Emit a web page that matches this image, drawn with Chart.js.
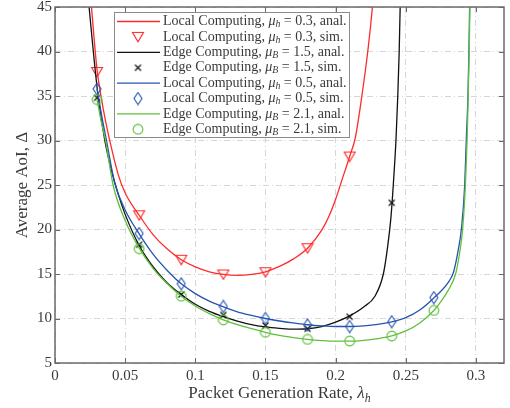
<!DOCTYPE html>
<html>
<head>
<meta charset="utf-8">
<script src="https://cdn.jsdelivr.net/npm/chart.js@4.4.1/dist/chart.umd.min.js"></script>
<style>
  html, body { margin: 0; padding: 0; background: #fff; }
  #wrap { width: 510px; height: 408px; position: relative; }
</style>
</head>
<body>
<div id="wrap"><canvas id="aoiChart"></canvas></div>
<script>
// simulation points (markers)
const xSim = [0.03, 0.06, 0.09, 0.12, 0.15, 0.18, 0.21, 0.24, 0.27];
const localLowSim = [37.7, 21.6, 16.6, 14.95, 15.2, 17.9, 28.2];
const edgeLowSim = [34.8, 18.3, 12.7, 10.4, 9.2, 8.85, 10.2, 23.0];
const localHighSim = [35.8, 19.55, 13.9, 11.35, 10.0, 9.27, 9.1, 9.64, 12.35];
const edgeHighSim = [34.6, 17.85, 12.5, 9.85, 8.45, 7.65, 7.47, 8.03, 10.9];

// analytical curves
const xLocalLow = [0.024, 0.026, 0.028, 0.03, 0.033, 0.036, 0.039, 0.045, 0.05, 0.06, 0.07, 0.08, 0.09, 0.1, 0.11, 0.12, 0.13, 0.14, 0.15, 0.16, 0.17, 0.18, 0.19, 0.195, 0.2, 0.205, 0.21, 0.214, 0.2187, 0.2229, 0.2262, 0.2285];
const yLocalLow = [48.5, 45, 41.2, 37.9, 34.8, 32.2, 30.0, 26.2, 24.1, 21.6, 19.4, 17.8, 16.6, 15.8, 15.25, 14.95, 14.85, 14.95, 15.25, 15.85, 16.7, 17.9, 19.9, 21.4, 23.4, 25.8, 28.2, 30.3, 35, 40, 45, 50];

const xEdgeLow = [0.0243, 0.027, 0.0307, 0.0355, 0.04, 0.045, 0.05, 0.06, 0.07, 0.08, 0.09, 0.1, 0.11, 0.12, 0.13, 0.14, 0.15, 0.16, 0.17, 0.18, 0.19, 0.2, 0.21, 0.22, 0.228, 0.234, 0.237, 0.2395, 0.2413, 0.243, 0.2443, 0.2453, 0.246, 0.2466];
const yEdgeLow = [45, 40.5, 35, 30, 26.8, 24.0, 21.7, 18.2, 15.8, 14.0, 12.7, 11.6, 10.8, 10.2, 9.7, 9.3, 9.05, 8.9, 8.8, 8.85, 9.1, 9.6, 10.3, 11.3, 12.5, 15, 18, 21.5, 25.5, 30, 35, 40, 45, 50];

const xLocalHigh = [0.03, 0.0335, 0.0367, 0.0426, 0.05, 0.06, 0.07, 0.08, 0.09, 0.1, 0.11, 0.12, 0.13, 0.14, 0.15, 0.16, 0.17, 0.18, 0.19, 0.2, 0.21, 0.22, 0.23, 0.24, 0.25, 0.26, 0.27, 0.28, 0.284, 0.2875, 0.2896, 0.292, 0.2931, 0.2943, 0.295, 0.2955, 0.296];
const yLocalHigh = [35.8, 32.6, 30, 25.2, 22.2, 19.5, 17.2, 15.4, 13.9, 12.8, 11.95, 11.3, 10.75, 10.35, 10.0, 9.72, 9.5, 9.3, 9.17, 9.1, 9.1, 9.17, 9.33, 9.62, 10.1, 10.95, 12.3, 14.0, 15.2, 17.8, 20, 25, 30, 35, 40, 45, 50];

const xEdgeHigh = [0.03, 0.033, 0.036, 0.0414, 0.05, 0.06, 0.07, 0.08, 0.09, 0.1, 0.11, 0.12, 0.13, 0.14, 0.15, 0.16, 0.17, 0.18, 0.19, 0.2, 0.21, 0.22, 0.23, 0.24, 0.25, 0.26, 0.27, 0.275, 0.28, 0.2855, 0.2885, 0.2905, 0.2925, 0.2937, 0.2945, 0.2952, 0.2957, 0.2962];
const yEdgeHigh = [34.6, 32.1, 30, 25, 21.0, 17.9, 15.6, 13.9, 12.5, 11.4, 10.55, 9.85, 9.3, 8.85, 8.45, 8.1, 7.85, 7.65, 7.52, 7.45, 7.45, 7.55, 7.75, 8.05, 8.6, 9.5, 10.9, 11.9, 13.1, 15, 17.5, 20, 25, 30, 35, 40, 45, 50];

const xTicks = [0, 0.05, 0.1, 0.15, 0.2, 0.25, 0.3];
const yTicks = [5, 10, 15, 20, 25, 30, 35, 40, 45];

const legendScheme = ['Local Computing', 'Local Computing', 'Edge Computing', 'Edge Computing', 'Local Computing', 'Local Computing', 'Edge Computing', 'Edge Computing'];
const legendSub = ['h', 'h', 'B', 'B', 'h', 'h', 'B', 'B'];
const legendMu = ['0.3', '0.3', '1.5', '1.5', '0.5', '0.5', '2.1', '2.1'];
const legendKind = ['anal.', 'sim.', 'anal.', 'sim.', 'anal.', 'sim.', 'anal.', 'sim.'];

const RED = '#ff2a2a';
const BLACK = '#111111';
const BLUE = '#2553b0';
const GREEN = '#5fbf3c';
const FONT = '"Liberation Serif", "Times New Roman", serif';
const TEXT = '#3a3a3a';
const AXIS = '#6a6a6a';

// marker images
const makeMarker = (w, h, draw) => {
    const c = document.createElement('canvas');
    c.width = w;
    c.height = h;
    const ctx = c.getContext('2d');
    draw(ctx);
    return c;
};

const triDown = makeMarker(14, 12, (ctx) => {
    ctx.strokeStyle = RED;
    ctx.lineWidth = 1.1;
    ctx.beginPath();
    ctx.moveTo(1.5, 1.5);
    ctx.lineTo(12.5, 1.5);
    ctx.lineTo(7, 10.8);
    ctx.closePath();
    ctx.stroke();
});

const xMark = makeMarker(9, 9, (ctx) => {
    ctx.strokeStyle = BLACK;
    ctx.lineWidth = 1.2;
    ctx.beginPath();
    ctx.moveTo(1.5, 1.5);
    ctx.lineTo(7.5, 7.5);
    ctx.moveTo(7.5, 1.5);
    ctx.lineTo(1.5, 7.5);
    ctx.stroke();
});

const diamond = makeMarker(10, 14, (ctx) => {
    ctx.strokeStyle = BLUE;
    ctx.lineWidth = 1.1;
    ctx.beginPath();
    ctx.moveTo(5, 1);
    ctx.lineTo(9, 7);
    ctx.lineTo(5, 13);
    ctx.lineTo(1, 7);
    ctx.closePath();
    ctx.stroke();
});

const ring = makeMarker(12, 12, (ctx) => {
    ctx.strokeStyle = GREEN;
    ctx.lineWidth = 1.1;
    ctx.beginPath();
    ctx.arc(6, 6, 4.9, 0, Math.PI * 2);
    ctx.stroke();
});

const toPoints = (xs, ys) => ys.map((y, i) => ({ x: xs[i], y }));

const analLine = (xs, ys, color) => ({
    data: toPoints(xs, ys),
    showLine: true,
    borderColor: color,
    borderWidth: 1.3,
    pointRadius: 0,
    cubicInterpolationMode: 'monotone',
    fill: false,
    clip: 0,
});

const simMarks = (ys, color, style) => ({
    data: toPoints(xSim, ys),
    showLine: false,
    borderColor: color,
    backgroundColor: color,
    pointStyle: style,
    pointRadius: 5,
});

const datasets = [
    analLine(xLocalLow, yLocalLow, RED),
    simMarks(localLowSim, RED, triDown),
    analLine(xEdgeLow, yEdgeLow, BLACK),
    simMarks(edgeLowSim, BLACK, xMark),
    analLine(xLocalHigh, yLocalHigh, BLUE),
    simMarks(localHighSim, BLUE, diamond),
    analLine(xEdgeHigh, yEdgeHigh, GREEN),
    simMarks(edgeHighSim, GREEN, ring),
];
// later series on top, like the original plot
datasets.forEach((ds, i) => { ds.order = datasets.length - i; });

// text with italic math and subscript
const drawMath = (ctx, x, y, parts, size) => {
    let cx = x;
    parts.forEach((p) => {
        const fs = p.sub ? size * 0.7 : size;
        ctx.font = (p.it ? 'italic ' : '') + fs + 'px ' + FONT;
        const dy = p.sub ? size * 0.22 : 0;
        ctx.fillText(p.t, cx, y + dy);
        cx += ctx.measureText(p.t).width;
    });
    return cx - x;
};

const measureMath = (ctx, parts, size) => {
    let w = 0;
    parts.forEach((p) => {
        const fs = p.sub ? size * 0.7 : size;
        ctx.font = (p.it ? 'italic ' : '') + fs + 'px ' + FONT;
        w += ctx.measureText(p.t).width;
    });
    return w;
};

const framePlugin = {
    id: 'frame',
    afterDatasetsDraw(chart) {
        const { ctx, chartArea: a, scales } = chart;
        ctx.save();
        ctx.strokeStyle = AXIS;
        ctx.lineWidth = 1;
        ctx.beginPath();
        xTicks.forEach((v) => {
            const px = Math.round(scales.x.getPixelForValue(v)) + 0.5;
            ctx.moveTo(px, a.bottom);
            ctx.lineTo(px, a.bottom - 5);
            ctx.moveTo(px, a.top);
            ctx.lineTo(px, a.top + 5);
        });
        yTicks.forEach((v) => {
            const py = Math.round(scales.y.getPixelForValue(v)) + 0.5;
            ctx.moveTo(a.left, py);
            ctx.lineTo(a.left + 5, py);
            ctx.moveTo(a.right, py);
            ctx.lineTo(a.right - 5, py);
        });
        ctx.stroke();
        ctx.lineWidth = 1.5;
        ctx.strokeRect(a.left, a.top, a.right - a.left, a.bottom - a.top);
        ctx.restore();
    },
    afterDraw(chart) {
        const { ctx, chartArea: a } = chart;
        ctx.save();

        // legend
        const lx = 114, ly = 12, lw = 235, lh = 125, rowH = 15.4;
        ctx.fillStyle = '#ffffff';
        ctx.fillRect(lx, ly, lw, lh);
        ctx.strokeStyle = '#8a8a8a';
        ctx.lineWidth = 1;
        ctx.strokeRect(lx + 0.5, ly + 0.5, lw, lh);
        ctx.textBaseline = 'middle';
        datasets.forEach((ds, i) => {
            const ry = ly + 9.5 + i * rowH;
            if (ds.showLine) {
                ctx.strokeStyle = ds.borderColor;
                ctx.lineWidth = 1.3;
                ctx.beginPath();
                ctx.moveTo(117, ry);
                ctx.lineTo(160, ry);
                ctx.stroke();
            } else {
                const img = ds.pointStyle;
                ctx.drawImage(img, 138 - img.width / 2, ry - img.height / 2);
            }
            ctx.fillStyle = TEXT;
            drawMath(ctx, 163, ry, [
                { t: legendScheme[i] + ', ' },
                { t: 'μ', it: true },
                { t: legendSub[i], it: true, sub: true },
                { t: ' = ' + legendMu[i] + ', ' + legendKind[i] },
            ], 14);
        });

        // axis titles
        ctx.fillStyle = TEXT;
        ctx.textBaseline = 'alphabetic';
        const xParts = [
            { t: 'Packet Generation Rate, ' },
            { t: 'λ', it: true },
            { t: 'h', it: true, sub: true },
        ];
        const xw = measureMath(ctx, xParts, 17);
        drawMath(ctx, (a.left + a.right) / 2 - xw / 2, 398, xParts, 17);

        ctx.translate(27, (a.top + a.bottom) / 2);
        ctx.rotate(-Math.PI / 2);
        const yParts = [{ t: 'Average AoI, Δ' }];
        const yw = measureMath(ctx, yParts, 17);
        drawMath(ctx, -yw / 2, 0, yParts, 17);
        ctx.restore();
    },
};

const gridStyle = {
    color: '#d6d6d6',
    lineWidth: 1,
    drawTicks: false,
};

new Chart(document.getElementById('aoiChart'), {
    type: 'scatter',
    data: { datasets },
    options: {
        responsive: true,
        maintainAspectRatio: false,
        animation: false,
        layout: { padding: { top: 7, right: 3, left: 0, bottom: 0 } },
        plugins: {
            legend: { display: false },
            tooltip: { enabled: false },
        },
        scales: {
            x: {
                type: 'linear',
                min: 0,
                max: 0.32,
                grid: gridStyle,
                border: { display: false, dash: [6, 3, 1, 3] },
                ticks: {
                    padding: 4,
                    color: TEXT,
                    font: { family: FONT, size: 15 },
                    maxRotation: 0,
                    callback: (v) => String(+v.toFixed(2)),
                },
                afterBuildTicks: (scale) => {
                    scale.ticks = xTicks.map((v) => ({ value: v }));
                },
                afterFit: (scale) => {
                    scale.height = 45;
                    scale.paddingLeft = 0;
                    scale.paddingRight = 0;
                },
            },
            y: {
                min: 5,
                max: 45,
                grid: gridStyle,
                border: { display: false, dash: [6, 3, 1, 3] },
                ticks: {
                    padding: 3,
                    color: TEXT,
                    font: { family: FONT, size: 15 },
                },
                afterBuildTicks: (scale) => {
                    scale.ticks = yTicks.map((v) => ({ value: v }));
                },
                afterFit: (scale) => {
                    scale.width = 55;
                    scale.paddingTop = 0;
                    scale.paddingBottom = 0;
                },
            },
        },
    },
    plugins: [framePlugin],
});
</script>
</body>
</html>
